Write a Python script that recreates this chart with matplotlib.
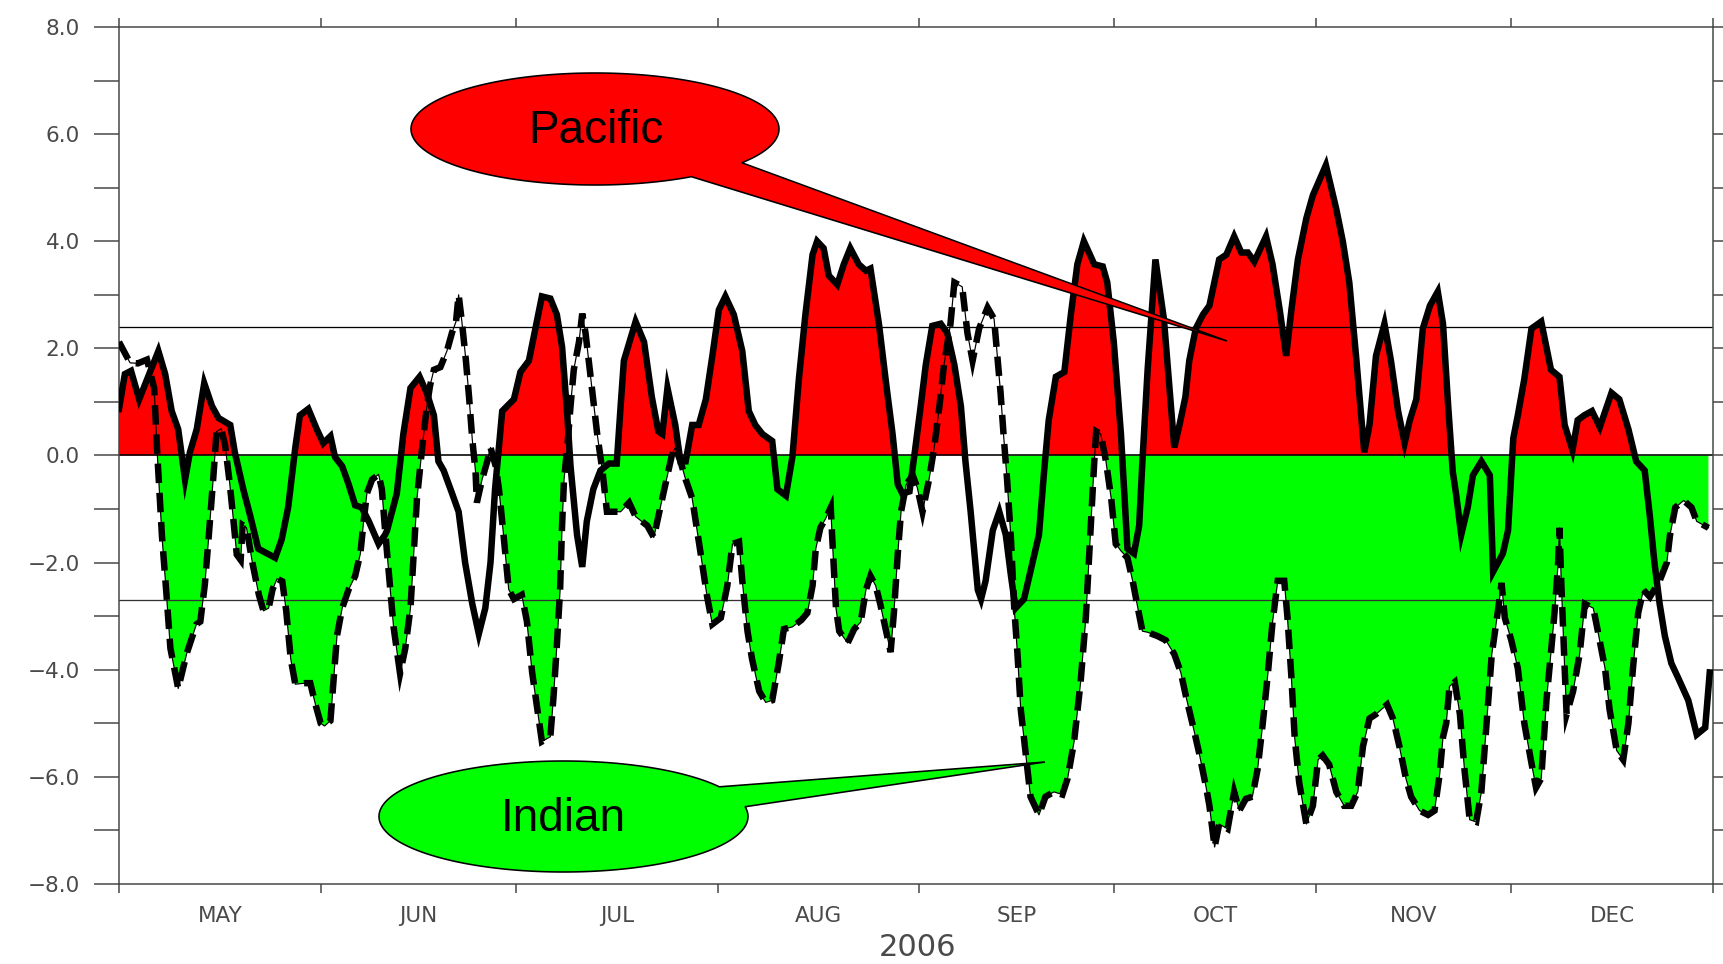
import matplotlib
matplotlib.use("Agg")
import matplotlib.pyplot as plt
import numpy as np
from matplotlib.patches import Polygon

# ---------------- data (day offset from 1 May 2006, value) ----------------
pacific_days = [0, 0.9, 1.85, 3.1, 6.05, 7.1, 8.1, 9.1, 10.15, 10.9, 11.95, 13.1, 14.3, 15.3, 17.1,
                17.8, 19.1, 20.2, 21.4, 24.0, 25.0, 26.0, 27.1, 27.8, 29.1, 30.4, 31.4, 32.5, 33.2,
                34.3, 35.3, 36.3, 37.3, 38.4, 39.9, 40.9, 41.2, 42.7, 43.7, 44.8, 46.2, 47.3, 48.4,
                49.1, 49.9, 51.2, 52.2, 53.2, 54.3, 55.3, 56.3, 57.1, 57.8, 58.9, 60.7, 61.7, 63.0,
                64.0, 65.0, 66.3, 67.3, 68.1, 68.9, 69.4, 70.4, 71.2, 71.9, 72.9, 74.0, 75.3, 76.5,
                77.1, 77.6, 79.4, 80.7, 81.9, 82.9, 83.5, 84.3, 85.5, 86.3, 87.1, 88.1, 89.1, 90.2,
                91.2, 92.2, 93.2, 94.5, 95.8, 96.8, 97.8, 98.9, 100.4, 101.2, 102.5, 103.5, 104.5,
                105.5, 106.6, 107.3, 108.3, 109.1, 110.4, 111.4, 112.4, 113.7, 114.8, 115.5, 116.8,
                117.9, 118.9, 119.7, 120.4, 121.5, 122.3, 123.2, 124.0, 125.0, 126.3, 127.3, 128.4,
                129.4, 130.1, 130.9, 132.0, 132.5, 133.2, 134.3, 135.3, 136.3, 137.1, 137.8, 139.1,
                140.4, 141.4, 142.2, 142.9, 144.0, 145.3, 146.3, 147.3, 148.3, 149.9, 151.2, 151.9,
                152.9, 154.0, 155.0, 156.0, 156.8, 157.3, 158.1, 159.3, 160.6, 162.2, 163.0, 163.9,
                164.5, 165.5, 166.6, 167.6, 169.1, 170.2, 171.4, 172.5, 173.5, 174.5, 176.3, 177.3,
                178.4, 179.4, 180.2, 181.2, 182.5, 183.5, 185.5, 187.1, 188.1, 189.1, 190.2, 191.4,
                192.2, 193.2, 194.5, 195.5, 196.6, 197.6, 198.4, 199.4, 200.4, 201.5, 202.7, 203.5,
                204.3, 205.0, 205.5, 206.3, 207.3, 208.1, 209.4, 210.7, 211.2, 212.7, 213.5, 214.3,
                215.0, 216.0, 217.1, 218.6, 220.1, 221.4, 222.2, 223.4, 224.2, 225.2, 226.4, 227.6,
                229.4, 230.6, 232.0, 233.2, 234.5, 235.3, 236.0, 236.8, 237.6, 238.6, 239.6, 241.2,
                242.5, 243.8, 244.5]
pacific_vals = [0.87, 1.52, 1.58, 1.05, 1.95, 1.52, 0.83, 0.49, -0.45, 0.06, 0.49, 1.35, 0.92, 0.70, 0.57,
                0.06, -0.63, -1.14, -1.74, -1.91, -1.57, -0.97, 0.15, 0.75, 0.87, 0.49, 0.23, 0.36, -0.03,
                -0.20, -0.54, -0.93, -0.97, -1.23, -1.65, -1.48, -1.40, -0.71, 0.40, 1.26, 1.47, 1.17, 0.75,
                -0.11, -0.28, -0.71, -1.05, -2.00, -2.77, -3.33, -2.85, -2.00, -0.63, 0.83, 1.05, 1.56, 1.77,
                2.37, 2.97, 2.93, 2.63, 2.03, 0.75, -0.20, -1.48, -2.08, -1.23, -0.63, -0.28, -0.15, -0.15,
                0.92, 1.77, 2.50, 2.12, 1.09, 0.45, 0.40, 1.26, 0.57, -0.11, -0.11, 0.57, 0.57, 1.05,
                1.86, 2.72, 2.97, 2.63, 1.95, 0.83, 0.57, 0.40, 0.27, -0.63, -0.75, -0.03, 1.43,
                2.63, 3.75, 4.00, 3.87, 3.36, 3.19, 3.57, 3.87, 3.57, 3.45, 3.49, 2.46,
                1.35, 0.40, -0.54, -0.71, -0.67, 0.05, 0.90, 1.69, 2.42, 2.46, 2.29, 1.69,
                0.92, -0.11, -1.05, -2.51, -2.68, -2.34, -1.40, -1.05, -1.48, -2.25, -2.85, -2.68,
                -2.00, -1.48, -0.28, 0.66, 1.47, 1.56, 2.63, 3.57, 4.00, 3.57, 3.53, 3.23,
                2.12, 0.40, -1.74, -1.83, -1.31, -0.11, 1.60, 3.66, 2.55, 0.15, 0.57, 1.09,
                1.77, 2.37, 2.63, 2.80, 3.66, 3.75, 4.09, 3.79, 3.79, 3.62, 4.09, 3.57,
                2.72, 1.86, 2.72, 3.66, 4.43, 4.86, 5.42, 4.60, 4.00, 3.23, 1.77, 0.06,
                0.57, 1.86, 2.46, 1.77, 0.83, 0.23, 0.66, 1.05, 2.37, 2.80, 3.06, 2.46,
                0.92, -0.30, -0.71, -1.48, -0.97, -0.37, -0.11, -0.37, -2.17, -1.83, -1.40, 0.32,
                0.75, 1.43, 2.37, 2.50, 1.60, 1.47, 0.57, 0.10, 0.66, 0.75, 0.83, 0.53,
                1.17, 1.05, 0.49, -0.11, -0.28, -1.14, -2.00, -2.77, -3.37, -3.88, -4.14, -4.57,
                -5.21, -5.08, -4.05]

indian_days = [0, 1.7, 2.9, 4.3, 5.4, 5.9, 6.6, 7.3, 7.9, 9.1, 10.4, 11.9, 12.5, 13.2, 13.8, 14.5,
               15.0, 15.7, 16.3, 17.0, 17.5, 18.1, 18.7, 19.0, 19.6, 20.5, 21.5, 22.2, 23.0, 23.6,
               24.3, 25.1, 25.7, 26.4, 27.1, 28.6, 29.4, 30.2, 31.0, 31.6, 32.5, 33.0, 33.5, 34.3,
               35.3, 36.3, 37.1, 37.6, 38.1, 38.9, 39.9, 40.4, 40.9, 41.7, 42.2, 43.2, 44.0, 44.8,
               45.3, 45.8, 46.6, 47.3, 47.8, 48.4, 49.4, 50.4, 51.2, 51.8, 52.2, 52.7, 53.3, 53.8,
               54.3, 54.8, 55.0, 55.8, 56.6, 57.1, 57.9, 58.4, 59.1, 59.9, 60.7, 61.9, 62.7, 63.5,
               64.3, 65.0, 66.3, 66.8, 67.3, 67.8, 68.1, 68.4, 68.9, 69.4, 69.9, 70.7, 71.2, 71.7,
               72.2, 73.0, 73.5, 74.3, 75.0, 76.0, 77.1, 78.4, 79.4, 81.2, 82.2, 83.2, 84.3, 85.0,
               85.5, 86.3, 87.1, 88.1, 89.4, 90.4, 91.2, 92.5, 93.5, 94.3, 95.3, 95.8, 96.6, 97.3,
               98.4, 99.4, 100.4, 101.4, 102.2, 103.5, 104.9, 105.8, 106.6, 107.1, 107.8, 108.6,
               109.4, 109.6, 110.2, 110.7, 112.0, 113.0, 114.0, 114.8, 115.5, 116.3, 117.0, 117.9,
               118.6, 119.1, 119.7, 120.2, 121.0, 122.0, 122.7, 123.5, 124.5, 125.3, 126.1, 126.8,
               127.8, 128.4, 129.6, 130.4, 131.2, 132.2, 133.5, 134.5, 135.0, 135.5, 136.0, 136.5,
               137.1, 137.6, 138.1, 138.6, 139.4, 140.1, 141.4, 142.4, 143.7, 145.0, 145.8, 146.8,
               147.8, 148.6, 149.1, 149.6, 149.9, 150.2, 150.9, 151.7, 152.5, 153.2, 154.0, 155.0,
               155.8, 156.6, 157.3, 158.1, 159.6, 160.9, 162.2, 163.2, 164.0, 165.3, 166.1, 167.1,
               167.6, 168.4, 169.1, 170.4, 171.4, 172.2, 173.2, 174.2, 175.0, 175.8, 176.6, 177.3,
               178.1, 179.1, 179.6, 180.2, 180.7, 181.4, 182.5, 183.5, 184.3, 185.0, 186.0, 187.1,
               188.3, 189.4, 190.4, 191.2, 192.2, 193.2, 194.9, 195.8, 196.8, 197.8, 198.6, 199.9,
               201.2, 202.2, 203.0, 203.5, 204.0, 204.5, 205.3, 206.1, 206.8, 207.6, 208.6, 209.4,
               210.2, 211.0, 212.0, 212.5, 213.0, 214.0, 215.0, 216.0, 217.0, 217.8, 218.6, 219.4,
               220.2, 220.7, 221.2, 221.4, 221.7, 222.2, 222.5, 223.5, 224.5, 225.3, 226.6, 227.3,
               228.4, 229.1, 230.2, 231.2, 232.0, 232.7, 233.5, 234.3, 235.3, 236.8, 237.9, 238.4,
               239.2, 240.5, 241.7, 242.5, 244.3]
indian_vals = [2.12, 1.73, 1.72, 1.79, 1.26, 0.00, -1.50, -2.60, -3.60, -4.35, -3.70, -3.15, -3.10, -2.40, -1.50, -0.40,
               0.45, 0.50, 0.20, -0.50, -1.10, -1.85, -1.95, -1.30, -1.35, -2.00, -2.60, -2.90, -2.85, -2.50,
               -2.30, -2.35, -2.90, -3.80, -4.27, -4.25, -4.25, -4.65, -5.00, -5.05, -4.95, -4.15, -3.37, -2.85,
               -2.50, -2.25, -1.83, -1.23, -0.71, -0.45, -0.35, -0.63, -1.40, -2.50, -3.20, -4.07, -3.60, -2.85,
               -1.83, -0.80, 0.15, 0.90, 1.30, 1.60, 1.65, 1.95, 2.30, 2.50, 3.00, 2.50, 1.80, 1.10,
               0.30, -0.30, -0.88, -0.45, -0.11, 0.15, -0.20, -0.63, -1.48, -2.50, -2.68, -2.60, -3.10, -4.05,
               -4.74, -5.34, -5.25, -4.48, -3.54, -2.50, -1.31, -0.45, 0.15, 0.92, 1.60, 2.12, 2.65, 2.29,
               1.77, 0.92, 0.40, -0.28, -1.05, -1.05, -1.05, -0.88, -1.14, -1.31, -1.53, -0.97, -0.37, 0.02,
               0.15, -0.11, -0.45, -0.80, -1.83, -2.64, -3.15, -3.03, -2.43, -1.65, -1.61, -2.34, -3.28, -3.80,
               -4.40, -4.61, -4.57, -3.88, -3.24, -3.20, -3.07, -2.94, -2.43, -1.74, -1.35, -1.18,
               -0.97, -1.48, -2.85, -3.28, -3.50, -3.24, -3.11, -2.51, -2.25, -2.43, -2.77, -3.28,
               -3.67, -2.94, -1.83, -1.05, -0.54, -0.37, -0.60, -1.05, -0.45, 0.15, 0.92, 1.69,
               2.46, 3.23, 3.15, 2.29, 1.77, 2.37, 2.76, 2.55, 1.86, 1.17, 0.32, -0.45,
               -1.57, -2.85, -3.71, -4.74, -5.60, -6.37, -6.71, -6.37, -6.28, -6.33, -6.03, -5.34,
               -4.23, -3.03, -1.91, -0.80, -0.11, 0.45, 0.40, -0.11, -0.80, -1.65, -1.78, -1.91,
               -2.34, -2.85, -3.28, -3.30, -3.37, -3.45, -3.71, -4.05, -4.50, -5.17, -5.60, -6.20,
               -6.54, -7.31, -6.88, -6.97, -6.28, -6.63, -6.41, -6.37, -5.86, -5.00, -4.05, -3.11,
               -2.34, -2.34, -3.03, -4.14, -5.26, -6.11, -6.88, -6.54, -5.68, -5.60, -5.77, -6.28,
               -6.54, -6.54, -6.28, -5.43, -4.91, -4.83, -4.65, -4.91, -5.43, -6.03, -6.37, -6.63,
               -6.71, -6.63, -5.94, -5.26, -5.00, -4.31, -4.23, -4.83, -5.86, -6.80, -6.84, -6.28,
               -5.00, -3.71, -2.85, -2.38, -3.03, -3.45, -3.97, -5.00, -5.68, -6.20, -6.03, -4.57,
               -3.54, -2.85, -2.00, -1.35, -2.43, -3.97, -4.83, -4.40, -3.71, -2.77, -2.85, -3.28,
               -3.97, -4.74, -5.51, -5.68, -5.00, -3.97, -2.94, -2.51, -2.64, -2.34, -2.00, -1.48,
               -0.97, -0.84, -0.97, -1.23, -1.35]

upper_ref = 2.4
lower_ref = -2.7

month_starts = [0, 31, 61, 92, 123, 153, 184, 214, 245]
month_mids = [15.5, 46, 76.5, 107.5, 138, 168.5, 199, 229.5]
month_labels = ["MAY", "JUN", "JUL", "AUG", "SEP", "OCT", "NOV", "DEC"]
year_label = "2006"
y_major = [-8, -6, -4, -2, 0, 2, 4, 6, 8]
y_minor = [-7, -5, -3, -1, 1, 3, 5, 7]

# ---------------- figure ----------------
W, H, DPI = 1724, 964, 100
PX = 72.0 / DPI
fig = plt.figure(figsize=(W / DPI, H / DPI), dpi=DPI)
fig.patch.set_facecolor("white")

L, R, T, B = 119, 1713, 27, 884
ax = fig.add_axes([L / W, 1 - B / H, (R - L) / W, (B - T) / H])

pd_ = np.array(pacific_days); pv = np.array(pacific_vals)
idd = np.array(indian_days); iv = np.array(indian_vals)

ax.fill_between(pd_, pv, 0, where=pv > 0, interpolate=True, color="#ff0000", lw=0, zorder=1)
ax.fill_between(idd, iv, 0, where=iv < 0, interpolate=True, color="#00ff00", lw=0, zorder=1)

ax.axhline(0, color="black", lw=1.6 * PX, zorder=2)
ax.axhline(upper_ref, color="black", lw=1.3 * PX, zorder=2)
ax.axhline(lower_ref, color="#333333", lw=1.3 * PX, zorder=2)

ax.plot(idd, iv, color="black", lw=1.2 * PX, zorder=3)
ax.plot(idd, iv, color="black", lw=6.5 * PX, ls=(0, (3.0, 1.5)), dash_capstyle="butt",
        dash_joinstyle="miter", zorder=3)
ax.plot(pd_, pv, color="black", lw=6.5 * PX, solid_joinstyle="miter", zorder=4)

ax.set_xlim(0, 245)
ax.set_ylim(-8, 8)

gray = "#444444"
for s in ax.spines.values():
    s.set_color(gray)
    s.set_linewidth(1.5 * PX)

ax.set_yticks(y_major)
ax.set_yticklabels([("\u2212%.1f" % abs(v)) if v < 0 else "%.1f" % v for v in y_major])
ax.set_yticks(y_minor, minor=True)
ax.tick_params(axis="y", which="both", direction="out", length=25 * PX, width=1.5 * PX,
               color=gray, left=True, right=True, labelsize=15.5, labelcolor="#4a4a4a",
               pad=14 * PX)

ax.set_xticks(month_starts)
ax.set_xticklabels([])
ax.set_xticks(month_mids, minor=True)
ax.set_xticklabels(month_labels, minor=True)
ax.tick_params(axis="x", which="major", direction="out", length=9 * PX, width=1.5 * PX,
               color=gray, top=True, bottom=True)
ax.tick_params(axis="x", which="minor", length=0, pad=22 * PX, labelsize=15.5,
               labelcolor="#4a4a4a")

fig.text(918 / W, 1 - 948 / H, year_label, ha="center", va="center", fontsize=22,
         color="#4a4a4a")

# ---------------- callouts (figure pixel space) ----------------
ov = fig.add_axes([0, 0, 1, 1], zorder=10)
ov.set_xlim(0, W)
ov.set_ylim(H, 0)
ov.axis("off")
ov.patch.set_alpha(0)


def callout(cx, cy, w, h, a_pt, b_pt, tip, color):
    a, b = w / 2.0, h / 2.0
    ta = np.arctan2((a_pt[1] - cy) / b, (a_pt[0] - cx) / a)
    tb = np.arctan2((b_pt[1] - cy) / b, (b_pt[0] - cx) / a)
    lo, hi = min(ta, tb), max(ta, tb)
    t = np.linspace(hi, lo + 2 * np.pi, 300)
    arc = np.column_stack([cx + a * np.cos(t), cy + b * np.sin(t)])
    first = np.array([cx + a * np.cos(hi), cy + b * np.sin(hi)])
    pts = np.vstack([arc, [tip], [first]])
    ov.add_patch(Polygon(pts, closed=True, facecolor=color, edgecolor="black",
                         lw=1.6 * PX, joinstyle="miter"))


callout(595, 129, 368, 112, (692, 177), (743, 163), (1227, 341), "#ff0000")
callout(563.5, 816.5, 369, 111, (720, 786.7), (745.6, 806.7), (1045, 762), "#00ff00")

ov.text(596, 143, "Pacific", ha="center", va="baseline", fontsize=33,
        family="Liberation Sans", color="black")
ov.text(563.7, 831, "Indian", ha="center", va="baseline", fontsize=33,
        family="Liberation Sans", color="black")

fig.savefig("out.png", dpi=DPI)
